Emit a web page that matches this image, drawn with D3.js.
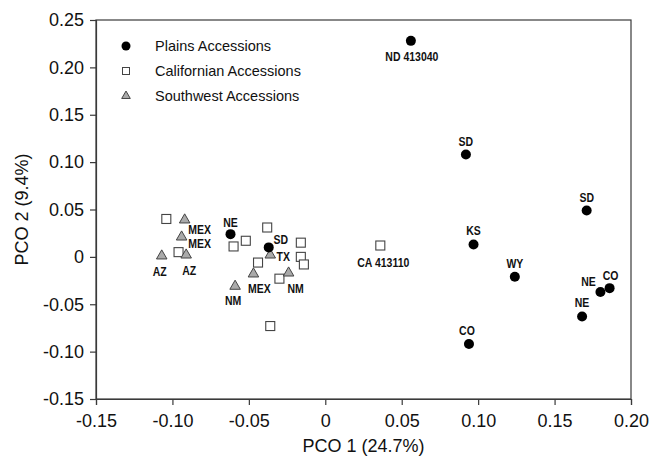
<!DOCTYPE html>
<html>
<head>
<meta charset="utf-8">
<script src="https://cdn.jsdelivr.net/npm/d3@7"></script>
<style>
  html, body { margin: 0; padding: 0; background: #fff; }
  #plot { width: 657px; height: 459px; }
</style>
</head>
<body>
<div id="plot"></div>
<script>
// PCO scores
const plainsLabels = ['ND 413040', 'SD', 'SD', 'KS', 'WY', 'NE', 'CO', 'NE', 'CO', 'NE', 'SD'];
const plainsX = [0.056, 0.092, 0.171, 0.097, 0.124, 0.180, 0.186, 0.168, 0.094, -0.062, -0.037];
const plainsY = [0.228, 0.108, 0.049, 0.013, -0.021, -0.037, -0.033, -0.063, -0.092, 0.024, 0.010];

const califLabels = ['', '', '', '', '', '', '', '', '', '', '', 'CA 413110'];
const califX = [-0.104, -0.096, -0.060, -0.052, -0.038, -0.016, -0.016, -0.014, -0.044, -0.030, -0.036, 0.036];
const califY = [0.040, 0.005, 0.011, 0.017, 0.031, 0.015, 0.000, -0.008, -0.006, -0.023, -0.073, 0.012];

const swLabels = ['MEX', 'MEX', 'AZ', 'AZ', 'TX', 'MEX', 'NM', 'NM'];
const swX = [-0.092, -0.094, -0.091, -0.107, -0.036, -0.047, -0.024, -0.059];
const swY = [0.039, 0.021, 0.002, 0.001, 0.002, -0.018, -0.017, -0.031];

const xTicks = [-0.15, -0.10, -0.05, 0, 0.05, 0.10, 0.15, 0.20];
const xTickLabels = ['-0.15', '-0.10', '-0.05', '0', '0.05', '0.10', '0.15', '0.20'];
const yTicks = [-0.15, -0.10, -0.05, 0, 0.05, 0.10, 0.15, 0.20, 0.25];
const yTickLabels = ['-0.15', '-0.10', '-0.05', '0', '0.05', '0.10', '0.15', '0.20', '0.25'];

const legendNames = ['Plains Accessions', 'Californian Accessions', 'Southwest Accessions'];

// label placement (pixel offsets from the marker), layout only
const plainsLabelOff = [[1, 16], [0, -13], [0, -13], [0, -14], [0, -13], [-12, -10], [1, -13], [0, -14], [-2, -14], [0, -12], [12, -8]];
const califLabelOff = califLabels.map((d, i) => (i === 11 ? [3, 17] : [0, 0]));
const swLabelOff = [[15, 10], [18, 7], [3, 16], [-2, 16], [13, 2], [6, 15], [7, 16], [-2, 14]];

function draw() {
  const W = 657, H = 459;
  const svg = d3.select('#plot').append('svg').attr('width', W).attr('height', H);

  const x = d3.scaleLinear().domain([-0.15, 0.20]).range([96, 631]);
  const y = d3.scaleLinear().domain([-0.15, 0.25]).range([399, 20]);

  const axisColor = '#3a3a3a';
  const tickFont = 'Liberation Sans, Arial, Helvetica, sans-serif';

  // frame
  svg.append('rect')
    .attr('x', x(-0.15)).attr('y', y(0.25))
    .attr('width', x(0.20) - x(-0.15)).attr('height', y(-0.15) - y(0.25))
    .attr('fill', 'none').attr('stroke', axisColor).attr('stroke-width', 1.2);

  const xAxis = d3.axisBottom(x).tickValues(xTicks).tickSize(6).tickPadding(9)
    .tickFormat((d, i) => xTickLabels[i]);
  const yAxis = d3.axisLeft(y).tickValues(yTicks).tickSize(6).tickPadding(6)
    .tickFormat((d, i) => yTickLabels[i]);

  const gx = svg.append('g').attr('transform', `translate(0,${y(-0.15)})`).call(xAxis);
  const gy = svg.append('g').attr('transform', `translate(${x(-0.15)},0)`).call(yAxis);
  [gx, gy].forEach(g => {
    g.select('.domain').attr('stroke', axisColor).attr('stroke-width', 1.2);
    g.selectAll('.tick line').attr('stroke', axisColor).attr('stroke-width', 1.2);
    g.selectAll('.tick text').attr('fill', '#111').style('font-family', tickFont).style('font-size', '18px');
  });

  // axis titles
  svg.append('text')
    .attr('x', (x(-0.15) + x(0.20)) / 2).attr('y', 452)
    .attr('text-anchor', 'middle')
    .style('font-family', tickFont).style('font-size', '18px').attr('fill', '#111')
    .text('PCO 1 (24.7%)');
  svg.append('text')
    .attr('transform', `translate(28,${(y(0.25) + y(-0.15)) / 2}) rotate(-90)`)
    .attr('text-anchor', 'middle')
    .style('font-family', tickFont).style('font-size', '18px').attr('fill', '#111')
    .text('PCO 2 (9.4%)');

  const tri = d3.symbol().type(d3.symbolTriangle).size(48);

  const plains = plainsX.map((v, i) => ({ x: v, y: plainsY[i], label: plainsLabels[i], off: plainsLabelOff[i] }));
  const calif = califX.map((v, i) => ({ x: v, y: califY[i], label: califLabels[i], off: califLabelOff[i] }));
  const sw = swX.map((v, i) => ({ x: v, y: swY[i], label: swLabels[i], off: swLabelOff[i] }));

  const pts = svg.append('g');

  pts.selectAll('.calif').data(calif).enter().append('rect')
    .attr('class', 'calif')
    .attr('x', d => x(d.x) - 4.5).attr('y', d => y(d.y) - 4.5)
    .attr('width', 9).attr('height', 9)
    .attr('fill', '#fff').attr('stroke', '#444').attr('stroke-width', 1.1);

  pts.selectAll('.sw').data(sw).enter().append('path')
    .attr('class', 'sw')
    .attr('transform', d => `translate(${x(d.x)},${y(d.y)})`)
    .attr('d', tri)
    .attr('fill', '#aaa').attr('stroke', '#444').attr('stroke-width', 1);

  pts.selectAll('.plains').data(plains).enter().append('circle')
    .attr('class', 'plains')
    .attr('cx', d => x(d.x)).attr('cy', d => y(d.y)).attr('r', 5)
    .attr('fill', '#000');

  // point labels: bold, squeezed horizontally like the condensed original
  const allLabels = plains.concat(calif, sw).filter(d => d.label);
  svg.append('g').selectAll('text').data(allLabels).enter().append('text')
    .attr('transform', d => `translate(${x(d.x) + d.off[0]},${y(d.y) + d.off[1]}) scale(0.84,1)`)
    .attr('dy', '0.36em')
    .attr('text-anchor', 'middle')
    .style('font-family', tickFont).style('font-size', '12.5px').style('font-weight', 'bold')
    .attr('fill', '#111')
    .text(d => d.label);

  // legend
  const legend = svg.append('g').attr('transform', 'translate(126,46)');
  legend.append('circle').attr('cx', 0).attr('cy', 0).attr('r', 4.5).attr('fill', '#000');
  legend.append('rect').attr('x', -3.5).attr('y', 25 - 3.5).attr('width', 7).attr('height', 7)
    .attr('fill', '#fff').attr('stroke', '#444').attr('stroke-width', 1);
  legend.append('path').attr('transform', 'translate(0,50)')
    .attr('d', d3.symbol().type(d3.symbolTriangle).size(32))
    .attr('fill', '#aaa').attr('stroke', '#444').attr('stroke-width', 1);
  legend.selectAll('.lt').data(legendNames).enter().append('text')
    .attr('class', 'lt')
    .attr('x', 29).attr('y', (d, i) => i * 25)
    .attr('dy', '0.36em')
    .style('font-family', tickFont).style('font-size', '14.5px').attr('fill', '#111')
    .text(d => d);
}

draw();
</script>
</body>
</html>
